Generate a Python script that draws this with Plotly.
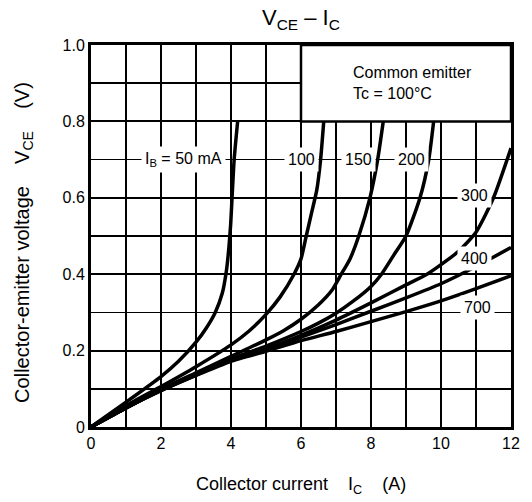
import plotly.graph_objects as go

# ---- data ----
ic_50 = [0, 1, 2, 2.5, 3, 3.3, 3.55, 3.75, 3.87, 3.94, 3.99, 4.03, 4.09, 4.19]
vce_50 = [0, 0.065, 0.132, 0.172, 0.222, 0.26, 0.30, 0.35, 0.41, 0.47, 0.53, 0.60, 0.70, 0.80]

ic_100 = [0, 1, 2, 3, 4, 4.5, 5, 5.4, 5.8, 6.0, 6.15, 6.3, 6.45, 6.56, 6.65]
vce_100 = [0, 0.056, 0.106, 0.158, 0.215, 0.25, 0.295, 0.34, 0.40, 0.44, 0.50, 0.56, 0.62, 0.70, 0.80]

ic_150 = [0, 1, 2, 3, 4, 5, 5.5, 6, 6.5, 6.9, 7.15, 7.4, 7.65, 7.97, 8.19, 8.35]
vce_150 = [0, 0.05, 0.099, 0.142, 0.185, 0.228, 0.252, 0.282, 0.32, 0.36, 0.40, 0.44, 0.50, 0.60, 0.70, 0.80]

ic_200 = [0, 1, 2, 3, 4, 5, 6, 6.5, 7, 7.5, 8, 8.3, 8.65, 9.0, 9.4, 9.65, 9.79]
vce_200 = [0, 0.05, 0.097, 0.138, 0.178, 0.212, 0.25, 0.272, 0.298, 0.33, 0.368, 0.40, 0.45, 0.50, 0.60, 0.70, 0.80]

ic_300 = [0, 1, 2, 3, 4, 5, 6, 7, 8, 9, 9.6, 10, 10.5, 11, 11.5, 12]
vce_300 = [0, 0.05, 0.097, 0.137, 0.176, 0.205, 0.24, 0.28, 0.325, 0.372, 0.40, 0.425, 0.46, 0.51, 0.60, 0.73]

ic_400 = [0, 1, 2, 3, 4, 5, 6, 7, 8, 9, 10, 11, 12]
vce_400 = [0, 0.05, 0.096, 0.136, 0.175, 0.20, 0.235, 0.268, 0.303, 0.338, 0.375, 0.42, 0.47]

ic_700 = [0, 1, 2, 3, 4, 5, 6, 7, 8, 9, 10, 11, 12]
vce_700 = [0, 0.05, 0.095, 0.135, 0.172, 0.198, 0.226, 0.25, 0.276, 0.302, 0.33, 0.362, 0.396]

curves = [(ic_50, vce_50), (ic_100, vce_100), (ic_150, vce_150), (ic_200, vce_200),
          (ic_300, vce_300), (ic_400, vce_400), (ic_700, vce_700)]

curve_labels = ["I<sub>B</sub> = 50 mA", "100", "150", "200", "300", "400", "700"]
label_x = [2.65, 6.0, 7.63, 9.15, 10.96, 10.95, 11.05]
label_y = [0.70, 0.70, 0.70, 0.70, 0.605, 0.442, 0.312]

x_tickvals = [0, 2, 4, 6, 8, 10, 12]
x_ticktext = ["0", "2", "4", "6", "8", "10", "12"]
y_tickvals = [0, 0.2, 0.4, 0.6, 0.8, 1.0]
y_ticktext = ["0", "0.2", "0.4", "0.6", "0.8", "1.0"]

FONT = "Liberation Sans, Arial, sans-serif"
NB = "\u00a0"

fig = go.Figure()
for ic, v in curves:
    fig.add_trace(go.Scatter(x=ic, y=v, mode="lines",
                             line=dict(color="black", width=3.5, shape="spline", smoothing=0.6),
                             hoverinfo="skip", showlegend=False))

# blank box (no grid) in upper right
fig.add_shape(type="rect", xref="x", yref="y", x0=6, x1=12, y0=0.8, y1=1.0,
              fillcolor="white", line=dict(color="black", width=2.5), layer="above")

for t, x, y in zip(curve_labels, label_x, label_y):
    fig.add_annotation(x=x, y=y, xref="x", yref="y", text=t, showarrow=False,
                       font=dict(family=FONT, size=16, color="black"),
                       bgcolor="white", borderpad=3, xanchor="center", yanchor="middle")

fig.add_annotation(x=7.44, y=0.90, xref="x", yref="y", xanchor="left", yanchor="middle",
                   align="left", showarrow=False,
                   text="Common emitter<br>Tc = 100°C",
                   font=dict(family=FONT, size=16, color="black"))

# titles
fig.add_annotation(x=0.5, y=1.0, xref="paper", yref="paper", yshift=26,
                   text="V<sub>CE</sub> – I<sub>C</sub>", showarrow=False,
                   xanchor="center", yanchor="middle",
                   font=dict(family=FONT, size=22, color="black"))
fig.add_annotation(x=0.5, y=0, xref="paper", yref="paper", yshift=-58,
                   text="Collector current" + NB * 4 + "I<sub>C</sub>" + NB * 4 + "(A)",
                   showarrow=False, xanchor="center", yanchor="middle",
                   font=dict(family=FONT, size=18, color="black"))
fig.add_annotation(x=0, y=0.482, xref="paper", yref="paper", xshift=-67,
                   text="Collector-emitter voltage" + NB * 4 + "V<sub>CE</sub>" + NB * 4 + "(V)",
                   showarrow=False, textangle=-90, xanchor="center", yanchor="middle",
                   font=dict(family=FONT, size=20, color="black"))

axis_common = dict(showline=True, linecolor="black", linewidth=3, mirror=True,
                   showgrid=True, gridcolor="black", gridwidth=2, zeroline=False,
                   ticks="", tickfont=dict(family=FONT, size=16, color="black"))

fig.update_xaxes(range=[0, 12], tickvals=x_tickvals, ticktext=x_ticktext,
                 minor=dict(dtick=1, tick0=0, showgrid=True, gridcolor="black", gridwidth=1.6, ticks=""),
                 **axis_common)
fig.update_yaxes(range=[0, 1.0], tickvals=y_tickvals, ticktext=y_ticktext,
                 minor=dict(dtick=0.1, tick0=0, showgrid=True, gridcolor="black", gridwidth=1.6, ticks=""),
                 **axis_common)

fig.update_layout(width=532, height=502, margin=dict(l=91, r=15, t=45, b=75),
                  plot_bgcolor="white", paper_bgcolor="white", showlegend=False)

fig.write_html("out.html", config={"displayModeBar": False, "staticPlot": True},
               post_script="document.body.style.margin='0';document.body.style.overflow='hidden';")
